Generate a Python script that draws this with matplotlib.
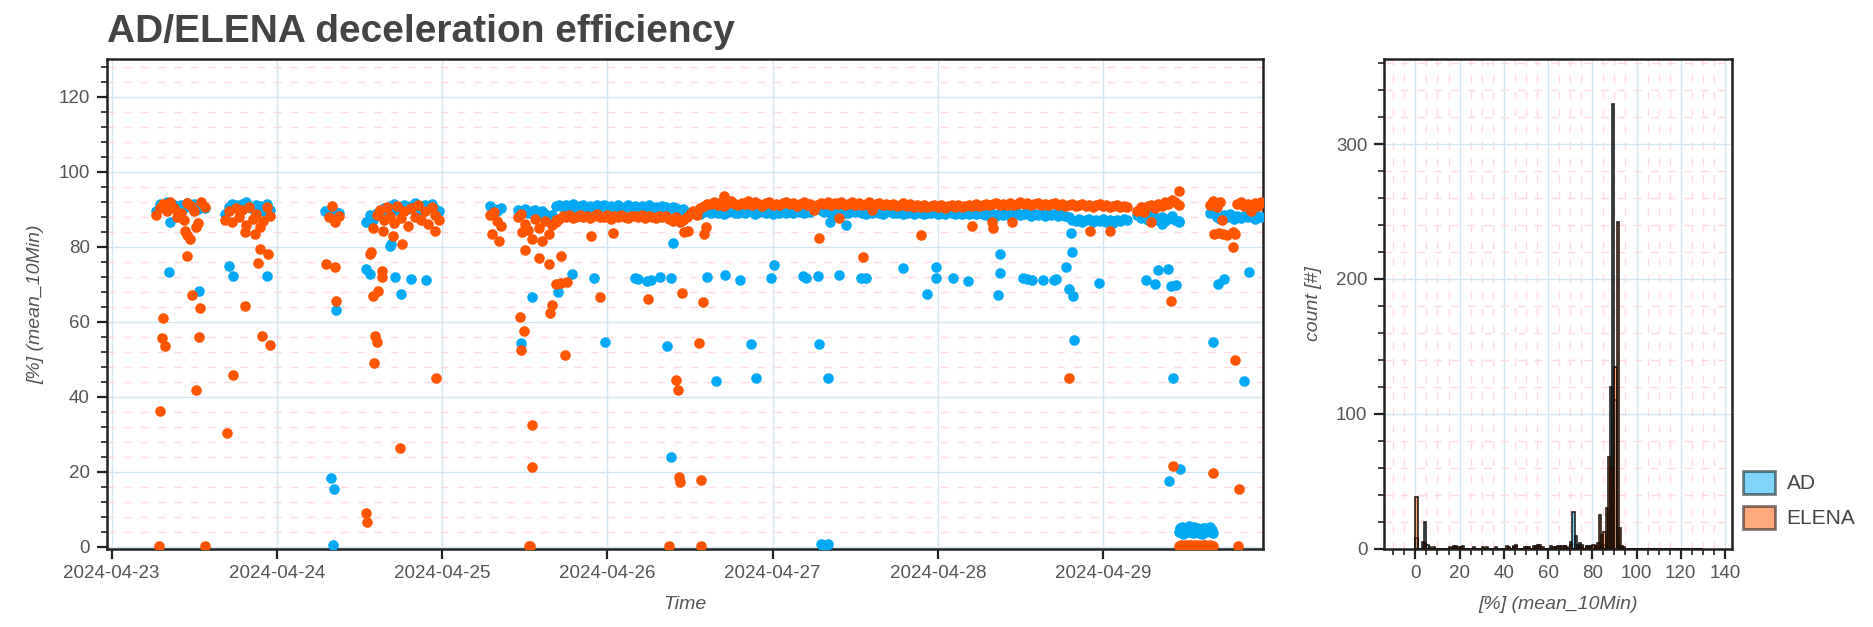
import numpy as np
import pandas as pd
import matplotlib
matplotlib.use("Agg")
import matplotlib.pyplot as plt
import matplotlib.dates as mdates
from matplotlib.colors import to_rgba
from matplotlib.ticker import MultipleLocator, NullLocator
from matplotlib.patches import Patch

plt.rcParams['font.family'] = ['Liberation Sans', 'DejaVu Sans']

# ------------------------------------------------------------
# data (hours since 2024-04-23 00:00, efficiency in %)
# ------------------------------------------------------------
T0 = pd.Timestamp("2024-04-23 00:00")

# dense band, one value every 30 min from each start
ad_seg_start = [6.5, 16.5, 31.0, 37.0, 55.0, 59.0, 64.5, 149.0, 159.5]
ad_seg_vals = [
    [89.5, 91.5, 90.8, 91.8, 90.5, 91.2, 89.8, 91.0, 90.2, 91.6, 90.6, 91.3, 90.0, 91.5, 90.4],
    [88.8, 90.5, 91.5, 91.0, 90.2, 91.3, 91.8, 90.6, 90.0, 91.2, 90.8, 89.5, 91.4, 89.8],
    [89.6, 89.0, 88.8, 89.3, 89.0],
    [86.5, 88.5, 87.2, 89.0, 88.6, 90.2, 89.5, 90.8, 91.5, 89.8, 90.6, 91.2, 90.0, 90.9, 91.6,
     90.3, 89.6, 91.0, 90.4, 91.3, 90.1, 89.4],
    [90.9, 90.0, 89.5, 90.4],
    [89.8, 89.2, 90.0, 88.9, 89.5, 89.8, 88.8, 89.4, 88.6, 87.8, 88.5],
    [90.8, 91.2, 90.5, 91.0, 90.7, 91.3, 90.4, 90.9, 91.1, 90.6,
     90.8, 90.3, 91.0, 90.7, 91.2, 90.5, 90.9, 90.6, 91.0, 90.4,
     90.7, 91.1, 90.5, 90.8, 90.2, 90.9, 90.6, 91.0, 90.4, 90.7,
     90.3, 90.8, 90.5, 90.1, 90.6, 90.2, 89.8, 90.0, 89.2, 88.6,
     89.0, 89.4, 88.8, 89.2, 89.6, 88.9, 89.3, 89.0, 89.5, 88.8,
     89.2, 89.7, 89.1, 88.9, 89.4, 89.0, 89.6, 89.2, 88.8, 89.3,
     89.5, 89.0, 89.2, 88.7, 89.4, 89.1, 89.6, 89.0, 89.3, 88.9,
     89.5, 89.2, 89.0, 89.7, 89.3, 90.2, 90.5, 89.8, 89.2, 89.4,
     89.0, 88.8, 89.3, 89.6, 89.1, 88.9, 89.4, 89.2, 89.7, 89.0,
     88.8, 89.3, 89.1, 89.5, 89.0, 88.7, 89.2, 89.4, 88.9, 89.1,
     89.3, 88.8, 89.0, 89.4, 88.7, 89.2, 89.0, 88.6, 89.1, 88.9,
     89.3, 88.8, 89.0, 88.6, 89.2, 88.9, 88.7, 89.1, 88.8, 89.0,
     88.6, 89.0, 88.8, 89.1,
     88.8, 88.4, 89.0, 88.6, 88.2, 88.9, 88.5, 89.1, 88.3, 88.7,
     88.9, 88.4, 88.6, 89.0, 88.3, 88.8, 88.5, 88.9, 88.2, 88.7,
     88.4, 88.8, 88.1, 88.6, 88.3, 87.9,
     87.2, 86.8, 87.5, 86.6, 87.0, 87.4, 86.5, 87.1, 86.9, 87.3,
     86.7, 87.2, 86.4, 87.0, 86.8, 87.4, 87.0],
    [88.5, 87.6, 88.2, 87.0, 88.6, 87.8, 87.2, 88.0, 86.8, 87.5, 88.3, 87.1, 86.6],
    [88.9, 89.5, 88.0, 87.5, 88.4, 87.8, 88.6, 87.3, 88.1, 87.6, 88.3, 87.9, 88.5, 87.4, 88.2, 87.8],
]

el_seg_start = [6.5, 16.5, 31.5, 38.0, 55.0, 59.0, 64.5, 83.5, 149.0, 159.5, 163.5]
el_seg_vals = [
    [88.5, 90.2, 91.5, 89.4, 91.8, 90.3, 88.0, 89.0, 87.2, 91.6, 90.8, 89.5, 86.3, 91.9, 90.5],
    [87.0, 89.5, 86.5, 90.2, 88.0, 89.8, 85.8, 90.6, 87.4, 88.6, 85.2, 86.8, 90.7, 88.2],
    [88.0, 90.9, 86.5, 88.3],
    [85.0, 88.5, 89.8, 87.0, 90.5, 88.2, 86.4, 90.8, 87.6, 89.4, 85.6, 90.2, 88.0, 91.2, 87.2,
     89.6, 86.0, 90.6, 88.4, 87.0],
    [88.5, 89.2, 86.9, 85.6],
    [88.0, 88.7, 86.0, 84.5, 82.0, 87.5, 85.0, 81.5, 86.8, 83.5, 85.8, 87.0],
    [86.6, 87.5, 88.2, 87.8, 88.4, 87.6, 88.0, 88.5, 87.9, 88.3,
     87.7, 88.1, 88.6, 88.0, 87.8, 88.4, 87.5, 88.2, 87.9, 88.5,
     88.0, 87.6, 88.3, 88.1, 87.8, 88.4, 87.7, 88.2, 88.0, 87.6,
     88.3, 87.9, 88.1, 87.5, 86.9, 88.0, 86.5, 87.2],
    [87.8, 88.6, 89.4, 88.4, 90.2, 90.9, 91.4,
     91.5, 92.0, 91.2, 91.8, 90.9, 91.6, 92.2, 91.3, 91.0, 91.7,
     91.4, 92.1, 91.1, 91.8, 91.5, 90.8, 91.6, 91.9, 91.2, 91.5,
     91.0, 91.7, 92.0, 91.3, 91.6, 90.9, 91.4, 91.8, 91.1, 91.5,
     89.8, 91.2, 91.7, 91.4, 91.9, 91.0, 91.6, 91.3, 91.8, 91.1,
     91.5, 91.9, 91.2, 91.6, 91.0, 91.4, 91.8, 89.9, 91.3, 91.6,
     91.1, 91.5, 91.0, 91.4, 90.8, 91.2, 91.6, 90.9, 91.3, 90.7,
     91.1, 90.6, 91.0, 90.5, 90.9, 91.2, 90.6, 91.0, 90.4, 90.8,
     91.1, 90.7, 91.0, 90.5, 90.9, 91.2, 90.8, 91.4, 90.9, 91.2,
     91.5, 91.0, 91.3, 91.7, 91.1, 91.4, 91.0, 91.6, 91.2, 91.5,
     91.8, 91.3, 91.6, 91.0, 91.4, 91.7, 91.2, 91.5, 91.0, 91.3,
     91.6, 91.1, 91.4, 90.9, 91.2, 91.5, 90.8, 91.1, 91.4, 90.9,
     91.2, 90.7, 91.0, 91.3, 90.8, 91.1, 90.6, 90.9, 91.2, 90.7,
     90.9, 90.5],
    [89.6, 90.5, 89.2, 90.8, 91.0, 90.4, 91.5, 90.9, 92.0, 91.3, 92.4, 91.8, 91.2],
    [91.0, 92.3, 90.6, 91.8],
    [91.5, 92.0, 90.8, 91.3, 89.5, 91.6, 90.9, 91.8],
]
BAND_STEP_H = 0.5

# 2024-04-29 dropout, one value every 10 min from 155.0 h
ad_drop_start = 155.0
ad_drop_vals = [3.8, 4.9, 4.2, 5.3, 3.5, 4.6, 5.0, 4.1, 3.9, 5.4, 4.4, 4.8, 3.6, 5.2, 4.5, 4.0,
                5.1, 4.3, 3.7, 4.7, 3.4, 4.9, 4.2, 5.0, 3.8, 4.6, 4.1, 5.2, 3.9, 4.4, 3.6]
el_drop_start = 155.0
el_drop_vals = [0.3, 0.1, 0.4, 0.2, 0.3, 0.5, 0.2, 0.1, 0.4, 0.3, 0.2, 0.4, 0.1, 0.3, 0.5, 0.2,
                0.3, 0.1, 0.4, 0.2, 0.3, 0.5, 0.2, 0.4, 0.1, 0.3, 0.2, 0.4, 0.3, 0.1, 0.2]
DROP_STEP_H = 1.0 / 6.0

# isolated points
ad_out_h = [8.5, 8.4, 12.7, 17.1, 17.6, 22.6, 32.6, 31.9, 32.3, 32.2,
            40.4, 40.6, 36.9, 37.5, 41.1, 42.0, 43.5, 45.7,
            61.1, 64.9, 66.8, 59.5, 70.0, 71.6, 76.0, 76.5, 77.7, 78.3, 79.6, 81.3, 81.6, 80.6, 81.2,
            104.3, 106.6, 86.5, 89.1, 91.2, 95.7, 96.2, 100.4, 100.8, 102.6,
            105.6, 108.9, 109.6, 114.9, 119.8, 119.8, 122.2, 124.4, 118.4, 92.8,
            102.8, 87.8, 93.6, 104.1, 103.0, 103.3, 103.6, 103.9, 104.1,
            139.3, 129.0, 139.5, 129.1, 132.4, 133.0, 133.7, 135.3, 136.9, 137.2,
            138.6, 128.8, 139.0, 139.7, 143.4, 139.8, 152.5, 155.0, 150.3, 151.6,
            152.0, 153.5, 153.9, 154.6, 154.1, 155.2, 153.6, 160.0, 164.5, 160.7,
            161.6, 165.2]
ad_out_v = [86.5, 73.2, 68.1, 74.9, 72.3, 72.2, 63.2, 18.2, 15.4, 0.4,
            80.3, 80.8, 74.0, 72.7, 71.8, 67.5, 71.4, 71.2,
            66.5, 68.0, 72.7, 54.3, 71.6, 54.7, 71.6, 71.3, 70.9, 71.2, 71.8, 71.6, 81.0, 53.6, 23.8,
            86.5, 85.8, 71.8, 72.4, 71.1, 71.6, 75.1, 72.3, 71.6, 72.2,
            72.4, 71.6, 71.6, 74.3, 74.5, 71.6, 71.6, 70.9, 67.4, 54.0,
            54.0, 44.3, 44.9, 45.0, 0.6, 0.3, 0.5, 0.4, 0.6,
            83.6, 78.0, 78.7, 72.9, 71.6, 71.4, 71.1, 71.1, 71.1, 71.3,
            74.5, 67.1, 68.7, 66.8, 70.2, 55.2, 86.0, 86.8, 71.1, 70.0,
            73.8, 74.0, 69.6, 69.9, 44.9, 20.7, 17.6, 54.5, 44.3, 70.0,
            71.4, 73.2]

el_out_h = [10.6, 11.4, 11.0, 12.3, 10.9, 11.6, 12.9, 7.4, 7.25, 7.7, 12.7, 12.2, 7.0, 6.9, 13.5,
            21.5, 22.7, 21.2, 19.4, 21.9, 23.0, 17.6, 16.7, 19.3, 20.8,
            31.2, 32.4, 32.6,
            39.4, 40.9, 37.5, 37.7, 39.2, 39.3, 38.7, 38.0, 38.2, 38.5, 38.1, 41.9, 36.9, 37.1,
            42.2, 46.9, 47.1,
            55.2, 56.3,
            59.6, 60.0, 62.1, 63.5, 65.2, 69.6, 72.8, 64.6, 65.3, 66.1,
            63.9, 63.6, 59.3, 59.9, 59.5, 65.9, 71.0, 77.9, 82.8, 82.0,
            82.3, 61.0, 61.1, 82.4, 82.5, 60.6, 60.8, 81.0,
            83.2, 83.7, 86.1, 86.4, 89.0, 105.6, 102.8, 117.6, 125.0, 109.2, 85.9, 85.3, 85.6, 85.6,
            127.8, 128.0, 130.8, 142.1, 145.0, 139.1, 151.0, 155.1, 153.9, 154.1,
            160.0, 163.7, 163.6, 163.2, 160.1, 160.8, 161.4, 162.0, 162.9, 163.1,
            162.9, 161.3]
el_out_v = [84.3, 82.0, 83.0, 85.2, 77.4, 67.1, 63.6, 60.9, 55.6, 53.4, 55.8, 41.8, 36.1, 0.3, 0.3,
            79.4, 78.0, 75.6, 64.1, 56.1, 53.8, 45.8, 30.3, 83.8, 83.4,
            75.4, 74.7, 65.4,
            84.3, 82.9, 78.0, 78.6, 73.6, 71.8, 68.3, 66.9, 56.3, 54.7, 49.0, 26.2, 8.9, 6.5,
            80.7, 84.1, 45.0,
            83.4, 81.6,
            83.8, 79.1, 76.9, 75.4, 77.4, 82.8, 83.6, 70.0, 70.2, 70.5,
            64.5, 62.2, 61.2, 57.4, 52.5, 51.2, 66.5, 66.1, 67.6, 44.4,
            41.8, 32.5, 21.2, 18.7, 17.2, 0.3, 0.3, 0.3,
            83.8, 84.3, 83.4, 85.2, 93.6, 87.6, 82.3, 83.2, 85.4, 77.3, 65.3, 54.3, 17.9, 0.3,
            86.5, 85.0, 86.5, 84.1, 84.3, 45.0, 86.5, 94.8, 65.6, 21.4,
            19.6, 15.4, 0.3, 49.9, 83.4, 83.6, 83.4, 83.2, 83.8, 83.4,
            80.0, 87.1]

# histogram counts (bins of 1 %, given by their left edge)
hist_ad_bin = [0, 3, 4, 5, 17, 20, 44, 45, 54, 55, 63, 66, 67, 68, 70, 71, 72, 73, 74, 75,
               77, 78, 80, 81, 83, 84, 85, 86, 87, 88, 89, 90, 91, 92]
hist_ad_count = [8, 5, 20, 3, 1, 1, 1, 2, 2, 2, 1, 1, 2, 1, 5, 27, 9, 3, 4, 1,
                 1, 1, 2, 1, 1, 2, 3, 10, 25, 120, 330, 110, 8, 1]
hist_el_bin = [0, 4, 6, 8, 15, 17, 18, 19, 21, 26, 30, 32, 36, 41, 42, 44, 45, 49, 50, 51,
               53, 54, 55, 56, 57, 61, 62, 63, 64, 65, 66, 67, 70, 74, 75, 77, 78, 79, 80, 81,
               82, 83, 84, 85, 86, 87, 88, 89, 90, 91, 92, 93, 94]
hist_el_count = [38, 4, 1, 1, 1, 2, 2, 1, 2, 1, 1, 1, 1, 2, 1, 2, 3, 1, 1, 1,
                 2, 2, 3, 3, 1, 2, 1, 1, 2, 2, 2, 2, 3, 2, 3, 2, 2, 2, 3, 2,
                 4, 25, 10, 12, 30, 68, 60, 45, 135, 242, 15, 2, 1]
HIST_MAX_BIN = 130

AD_COLOR = "#03a9f4"
EL_COLOR = "#ff5500"
TEXT_COLOR = "#555555"


def expand(starts, vals, step):
    hours, values = [], []
    for s, vs in zip(starts, vals):
        hours += [s + i * step for i in range(len(vs))]
        values += list(vs)
    return hours, values


def to_time(hours):
    return T0 + pd.to_timedelta(np.asarray(hours, dtype=float), unit="h")


def series(seg_start, seg_vals, drop_start, drop_vals, out_h, out_v):
    h1, v1 = expand(seg_start, seg_vals, BAND_STEP_H)
    h2, v2 = expand([drop_start], [drop_vals], DROP_STEP_H)
    h = h1 + h2 + list(out_h)
    v = v1 + v2 + list(out_v)
    return to_time(h), np.array(v)


ad_t, ad_v = series(ad_seg_start, ad_seg_vals, ad_drop_start, ad_drop_vals, ad_out_h, ad_out_v)
el_t, el_v = series(el_seg_start, el_seg_vals, el_drop_start, el_drop_vals, el_out_h, el_out_v)

# ------------------------------------------------------------
# figure
# ------------------------------------------------------------
fig = plt.figure(figsize=(18.74, 6.27), dpi=100)
ax = fig.add_axes([0.0569, 0.125, 0.6172, 0.7807])
axh = fig.add_axes([0.7386, 0.125, 0.1858, 0.7807])

fig.text(0.0571, 1 - 41.5 / 627, "AD/ELENA deceleration efficiency", fontsize=28,
         fontweight="bold", color="#444444", va="baseline", ha="left")


def style_axes(a):
    for sp in a.spines.values():
        sp.set_linewidth(1.8)
        sp.set_color("#222222")
    a.tick_params(which="major", length=7, width=1.6, color="#222222",
                  labelsize=13.5, labelcolor=TEXT_COLOR, pad=5)
    a.tick_params(which="minor", length=4, width=1.2, color="#222222")
    a.set_axisbelow(True)


# scatter: time series
ax.scatter(ad_t, ad_v, s=58, color=AD_COLOR, linewidths=0, zorder=3)
ax.scatter(el_t, el_v, s=58, color=EL_COLOR, linewidths=0, zorder=4)

ax.set_xlim(to_time([-0.73])[0], to_time([167.27])[0])
ax.set_ylim(-0.5, 130)
ax.xaxis.set_major_locator(mdates.DayLocator())
ax.xaxis.set_major_formatter(mdates.DateFormatter("%Y-%m-%d"))
ax.xaxis.set_minor_locator(NullLocator())
ax.yaxis.set_major_locator(MultipleLocator(20))
ax.yaxis.set_minor_locator(MultipleLocator(4))
ax.grid(which="major", color="#d3e6f0", linewidth=1.0, linestyle="-")
ax.grid(which="minor", axis="y", color="#ffd9e0", linewidth=1.0, linestyle=(0, (5.5, 6.5)))
style_axes(ax)
ax.set_ylabel("[%] (mean_10Min)", fontsize=14, style="italic", color=TEXT_COLOR, labelpad=10)
ax.set_xlabel("Time", fontsize=14, style="italic", color=TEXT_COLOR, labelpad=10)

# histogram
bins = np.arange(HIST_MAX_BIN)
ad_counts = np.zeros(HIST_MAX_BIN)
ad_counts[hist_ad_bin] = hist_ad_count
el_counts = np.zeros(HIST_MAX_BIN)
el_counts[hist_el_bin] = hist_el_count

edge = (0.08, 0.05, 0.03, 0.9)
axh.bar(bins + 0.5, ad_counts, width=1.0, color=to_rgba(AD_COLOR, 0.5), edgecolor=edge,
        linewidth=1.2, zorder=3)
axh.bar(bins + 0.5, el_counts, width=1.0, color=to_rgba(EL_COLOR, 0.5), edgecolor=edge,
        linewidth=1.2, zorder=3)
axh.set_xlim(-14.1, 143.3)
axh.set_ylim(0, 363)
axh.xaxis.set_major_locator(MultipleLocator(20))
axh.xaxis.set_minor_locator(MultipleLocator(5))
axh.yaxis.set_major_locator(MultipleLocator(100))
axh.yaxis.set_minor_locator(MultipleLocator(20))
axh.grid(which="major", color="#d3e6f0", linewidth=1.0, linestyle="-")
axh.grid(which="minor", color="#ffd9e0", linewidth=1.0, linestyle=(0, (5.5, 6.5)))
style_axes(axh)
axh.set_xlabel("[%] (mean_10Min)", fontsize=14, style="italic", color=TEXT_COLOR, labelpad=10)
axh.set_ylabel("count [#]", fontsize=14, style="italic", color=TEXT_COLOR, labelpad=10)

handles = [
    Patch(facecolor=AD_COLOR, alpha=0.5, edgecolor="black", linewidth=2.0),
    Patch(facecolor=EL_COLOR, alpha=0.5, edgecolor="black", linewidth=2.0),
]
leg = axh.legend(handles, ["AD", "ELENA"], loc="lower left", bbox_to_anchor=(1.031, 0.04),
                 frameon=False, fontsize=15, handlelength=1.54, handleheight=1.35,
                 handletextpad=0.55, labelspacing=0.55, borderpad=0, borderaxespad=0)
for txt in leg.get_texts():
    txt.set_color("#444444")

fig.savefig("out.png", dpi=100)
